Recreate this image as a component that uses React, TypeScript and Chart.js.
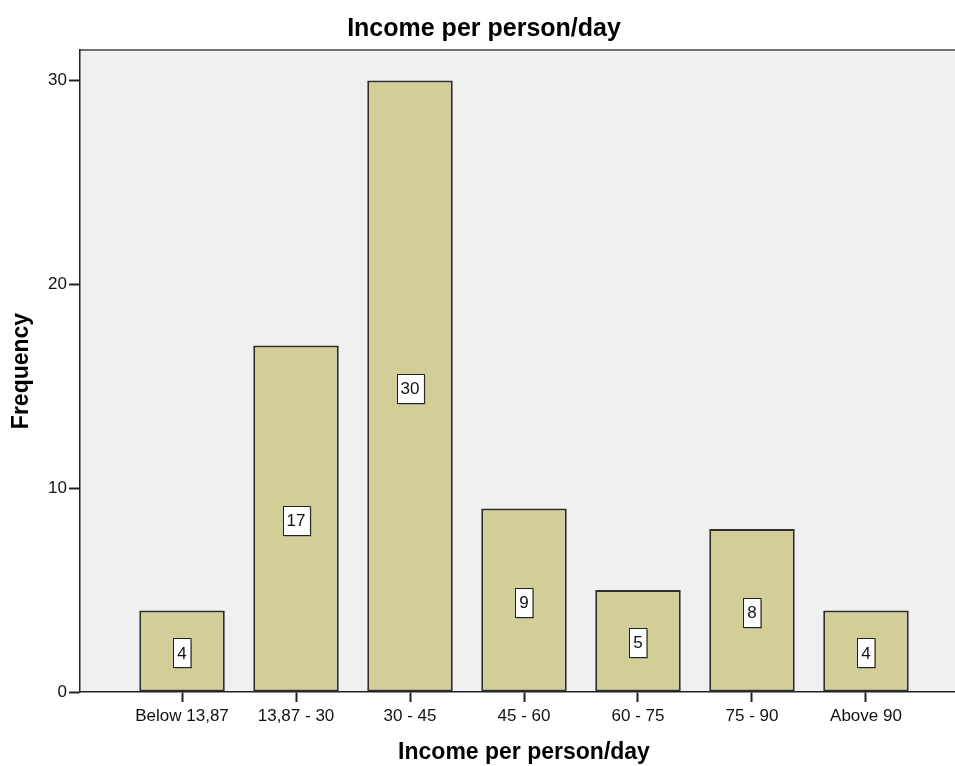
import React, { useEffect, useRef } from "react";
import { Chart, registerables } from "chart.js";

Chart.register(...registerables);

const chartTitle = "Income per person/day";
const xAxisTitle = "Income per person/day";
const yAxisTitle = "Frequency";
const categories = ["Below 13,87", "13,87 - 30", "30 - 45", "45 - 60", "60 - 75", "75 - 90", "Above 90"];
const frequencies = [4, 17, 30, 9, 5, 8, 4];
const yTicks = [0, 10, 20, 30];

const FONT = "'Liberation Sans', Arial, sans-serif";

const plotBg = {
  id: "plotBg",
  beforeDraw(chart: any) {
    const { ctx, chartArea } = chart;
    ctx.save();
    ctx.fillStyle = "#f0f0f0";
    ctx.fillRect(chartArea.left, chartArea.top, chartArea.right - chartArea.left, chartArea.bottom - chartArea.top);
    ctx.strokeStyle = "#444";
    ctx.lineWidth = 1.5;
    ctx.beginPath();
    ctx.moveTo(chartArea.left, chartArea.top);
    ctx.lineTo(chartArea.right, chartArea.top);
    ctx.stroke();
    ctx.restore();
  },
};

const boxLabels = {
  id: "boxLabels",
  afterDatasetsDraw(chart: any) {
    const { ctx } = chart;
    const meta = chart.getDatasetMeta(0);
    ctx.save();
    ctx.font = `17px ${FONT}`;
    ctx.textAlign = "center";
    ctx.textBaseline = "middle";
    meta.data.forEach((el: any, i: number) => {
      const v = frequencies[i];
      const text = String(v);
      const cx = el.x;
      const cy = (el.y + el.base) / 2 + 2;
      const w = ctx.measureText(text).width + 8;
      const h = 29;
      const x0 = Math.round(cx - w / 2) + 0.5;
      const y0 = Math.round(cy - h / 2) + 0.5;
      ctx.fillStyle = "#888";
      ctx.fillRect(x0 + 1, y0 + 1, w, h);
      ctx.fillStyle = "#ffffff";
      ctx.fillRect(x0, y0, w, h);
      ctx.strokeStyle = "#222";
      ctx.lineWidth = 1;
      ctx.strokeRect(x0, y0, w, h);
      ctx.fillStyle = "#111";
      ctx.fillText(text, cx, cy + 1);
    });
    ctx.restore();
  },
};

export default function App() {
  const ref = useRef<HTMLCanvasElement | null>(null);
  useEffect(() => {
    if (!ref.current) return;
    const chart = new Chart(ref.current, {
      type: "bar",
      data: {
        datasets: [
          {
            label: yAxisTitle,
            data: frequencies.map((v, i) => ({ x: i, y: v })),
            backgroundColor: "#d3ce97",
            borderColor: "#2e2e2e",
            borderWidth: 2,
            borderSkipped: false,
            categoryPercentage: 1,
            barPercentage: 0.75,
          },
        ],
      },
      options: {
        responsive: false,
        animation: false,
        layout: { padding: { left: 0, right: 2, top: 0, bottom: 0 } },
        plugins: {
          legend: { display: false },
          tooltip: { enabled: false },
          title: {
            display: true,
            text: chartTitle,
            color: "#000",
            font: { family: FONT, size: 25, weight: "bold" },
            padding: { top: 14, bottom: 6 },
          },
        },
        scales: {
          x: {
            type: "linear",
            offset: false,
            min: -0.895,
            max: 6.895,
            afterBuildTicks: (scale: any) => {
              scale.ticks = categories.map((_, i) => ({ value: i }));
            },
            afterFit: (scale: any) => {
              scale.height = 74;
              scale.paddingLeft = 0;
              scale.paddingRight = 0;
            },
            ticks: {
              autoSkip: false,
              maxRotation: 0,
              color: "#111",
              font: { family: FONT, size: 17 },
              padding: 4,
              callback: (v: any) => categories[v as number] ?? "",
            },
            grid: {
              drawOnChartArea: false,
              drawTicks: true,
              tickLength: 10,
              tickColor: "#222",
              tickWidth: 2,
              offset: false,
            },
            border: { display: true, color: "#222", width: 1.5 },
            title: {
              display: true,
              text: xAxisTitle,
              color: "#000",
              font: { family: FONT, size: 23, weight: "bold" },
              padding: { top: 0, bottom: 0 },
            },
          },
          y: {
            type: "linear",
            min: 0,
            max: 31.5,
            afterBuildTicks: (scale: any) => {
              scale.ticks = yTicks.map((v) => ({ value: v }));
            },
            afterFit: (scale: any) => {
              scale.width = 80;
            },
            ticks: {
              color: "#111",
              font: { family: FONT, size: 17 },
              padding: 2,
            },
            grid: {
              drawOnChartArea: false,
              drawTicks: true,
              tickLength: 11,
              tickColor: "#222",
              tickWidth: 2,
            },
            border: { display: true, color: "#222", width: 1.5 },
            title: {
              display: true,
              text: yAxisTitle,
              color: "#000",
              font: { family: FONT, size: 23, weight: "bold" },
              padding: { top: 8, bottom: 0 },
            },
          },
        },
      },
      plugins: [plotBg, boxLabels],
    });
    return () => chart.destroy();
  }, []);

  return (
    <div
      style={{
        position: "absolute",
        left: 0,
        top: 0,
        width: 955,
        height: 766,
        overflow: "hidden",
        background: "#fff",
      }}
    >
      <canvas ref={ref} width={970} height={766} style={{ width: 970, height: 766, display: "block" }} />
    </div>
  );
}
